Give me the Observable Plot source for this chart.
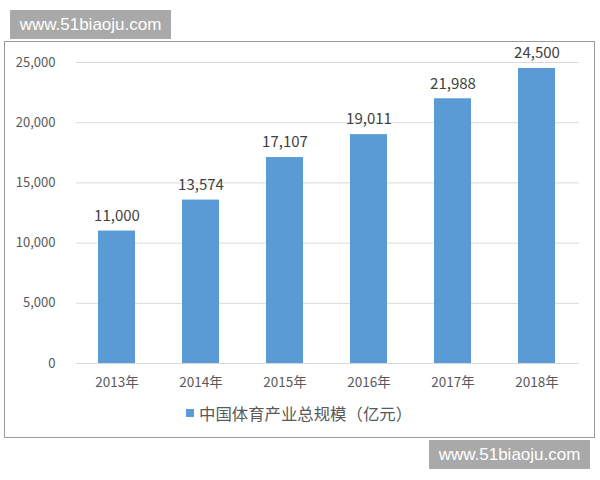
<!DOCTYPE html>
<html>
<head>
<meta charset="utf-8">
<script src="https://cdn.jsdelivr.net/npm/d3@7"></script>
<script src="https://cdn.jsdelivr.net/npm/@observablehq/plot@0.6"></script>
<style>
  html, body { margin: 0; padding: 0; background: #fff; }
  #wrap { position: relative; width: 600px; height: 480px; overflow: hidden; }
  .wm { position: absolute; background: #a9a9a9; color: #fff; font-family: "Liberation Sans", Arial, sans-serif; font-size: 17px; display: flex; align-items: center; justify-content: center; }
  #frame { position: absolute; left: 4px; top: 41px; width: 591px; height: 397px; border: 1.5px solid #9a9a9a; box-sizing: border-box; }
  #chart { position: absolute; left: 0; top: 0; }
  #legend { position: absolute; left: 186px; top: 401px; height: 24px; display: flex; align-items: center; font-family: "Noto Sans CJK SC", sans-serif; font-size: 16.4px; color: #595959; }
  #legend .sw { width: 8px; height: 8px; background: #5b9bd5; margin-right: 5px; }
</style>
</head>
<body>
<div id="wrap">
  <div id="frame"></div>
  <div id="chart"></div>
  <div id="legend"><span class="sw"></span><span id="legtext"></span></div>
  <div class="wm" style="left:10px;top:10px;width:161px;height:29px;">www.51biaoju.com</div>
  <div class="wm" style="left:429px;top:440px;width:161px;height:29px;">www.51biaoju.com</div>
</div>
<script>
const years = ["2013年", "2014年", "2015年", "2016年", "2017年", "2018年"];
const values = [11000, 13574, 17107, 19011, 21988, 24500];
const yTicks = [0, 5000, 10000, 15000, 20000, 25000];
const seriesName = "中国体育产业总规模（亿元）";

const data = years.map((y, i) => ({year: y, value: values[i]}));
const fmt = d3.format(",");

const plot = Plot.plot({
  width: 600,
  height: 480,
  marginLeft: 74,
  marginRight: 21,
  marginTop: 62,
  marginBottom: 117,
  style: {background: "transparent", fontFamily: "'Noto Sans CJK SC', sans-serif"},
  x: {domain: years, paddingInner: 0.556, paddingOuter: 0.278, label: null},
  y: {domain: [0, 25000], label: null},
  marks: [
    Plot.ruleY(yTicks, {stroke: "#d9d9d9", strokeWidth: 1, insetLeft: 2}),
    Plot.barY(data, {x: "year", y: "value", fill: "#5b9bd5"}),
    Plot.text(data, {x: "year", y: "value", text: d => fmt(d.value), dy: -15, fontSize: 15, fill: "#404040"}),
    Plot.axisY({ticks: yTicks, tickFormat: fmt, tickSize: 0, tickPadding: 19, fontSize: 13, color: "#595959", label: null}),
    Plot.axisX({tickSize: 0, tickPadding: 14, fontSize: 13.5, color: "#595959", label: null})
  ]
});
plot.querySelectorAll("text").forEach(t => t.style.fill = null);
document.getElementById("chart").appendChild(plot);
document.getElementById("legtext").textContent = seriesName;
</script>
</body>
</html>
